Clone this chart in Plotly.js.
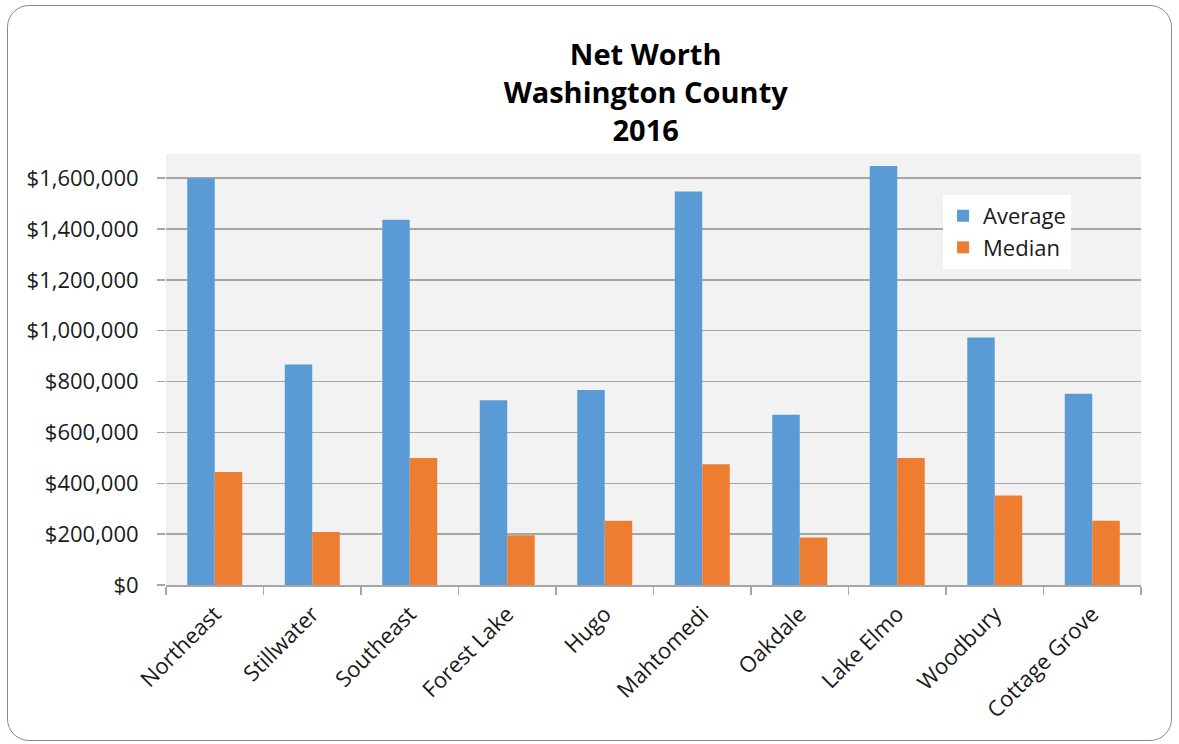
<!DOCTYPE html>
<html>
<head>
<meta charset="utf-8">
<script src="https://cdn.plot.ly/plotly-3.0.1.min.js"></script>
<style>
  html, body { margin: 0; padding: 0; background: #ffffff; }
  #wrap { position: relative; width: 1179px; height: 744px; }
  #chart { position: absolute; left: 0; top: 0; width: 1179px; height: 744px; }
  #frame { position: absolute; left: 7px; top: 5px; width: 1163px; height: 734px;
           border: 1.5px solid #8a8a8a; border-radius: 22px; pointer-events: none; }
</style>
</head>
<body>
<div id="wrap">
  <div id="chart"></div>
  <div id="frame"></div>
</div>
<script>
const categories = ["Northeast", "Stillwater", "Southeast", "Forest Lake", "Hugo",
                    "Mahtomedi", "Oakdale", "Lake Elmo", "Woodbury", "Cottage Grove"];
const averageValues = [1600000, 867000, 1436000, 727000, 767000,
                       1548000, 670000, 1648000, 973000, 752000];
const medianValues = [444000, 208000, 499000, 196000, 253000,
                      475000, 187000, 499000, 352000, 253000];
const yTickValues = [0, 200000, 400000, 600000, 800000, 1000000, 1200000, 1400000, 1600000];
const yTickLabels = ["$0", "$200,000", "$400,000", "$600,000", "$800,000",
                     "$1,000,000", "$1,200,000", "$1,400,000", "$1,600,000"];

const FONT = '"Open Sans", "Noto Sans", sans-serif';

const traces = [
  {
    type: "bar", name: "Average", x: categories, y: averageValues,
    marker: { color: "#5B9BD5" }, legendgroup: "a", hoverinfo: "x+y"
  },
  {
    type: "bar", name: "Median", x: categories, y: medianValues,
    marker: { color: "#ED7D31" }, legendgroup: "b", hoverinfo: "x+y"
  }
];

const layout = {
  width: 1179, height: 744,
  margin: { l: 166, r: 38, t: 154, b: 159, pad: 0 },
  paper_bgcolor: "rgba(0,0,0,0)",
  plot_bgcolor: "#F2F2F2",
  barmode: "group",
  bargap: 0.436,
  bargroupgap: 0,
  font: { family: FONT, color: "#1a1a1a", size: 22 },
  title: {
    text: "<b>Net Worth</b><br><b>Washington County</b><br><b>2016</b>",
    font: { family: FONT, size: 29, color: "#000000" },
    x: 0.492, xanchor: "center", xref: "paper",
    y: 0.912, yanchor: "middle", yref: "container"
  },
  xaxis: {
    type: "category",
    showgrid: false,
    showline: true, linecolor: "#A6A6A6", linewidth: 1.5,
    ticks: "outside", tickson: "boundaries", ticklen: 8, tickcolor: "#A6A6A6", tickwidth: 1.5,
    tickangle: -45, ticklabelstandoff: 6,
    tickfont: { family: FONT, size: 22, color: "#1a1a1a" },
    fixedrange: true
  },
  yaxis: {
    range: [0, 1695000],
    tickmode: "array", tickvals: yTickValues, ticktext: yTickLabels,
    showgrid: true, gridcolor: "#A6A6A6", gridwidth: 1.5,
    zeroline: false, showline: false,
    ticks: "outside", ticklen: 8, tickcolor: "#A6A6A6", tickwidth: 1.5,
    ticklabelstandoff: 14,
    tickfont: { family: FONT, size: 22, color: "#1a1a1a" },
    fixedrange: true
  },
  showlegend: true,
  legend: {
    x: 0.797, xanchor: "left", y: 0.905, yanchor: "top",
    bgcolor: "#FFFFFF", borderwidth: 0,
    font: { family: FONT, size: 22, color: "#1a1a1a" },
    tracegroupgap: 8, traceorder: "normal"
  }
};

Plotly.newPlot("chart", traces, layout, { displayModeBar: false, staticPlot: true });
</script>
</body>
</html>
